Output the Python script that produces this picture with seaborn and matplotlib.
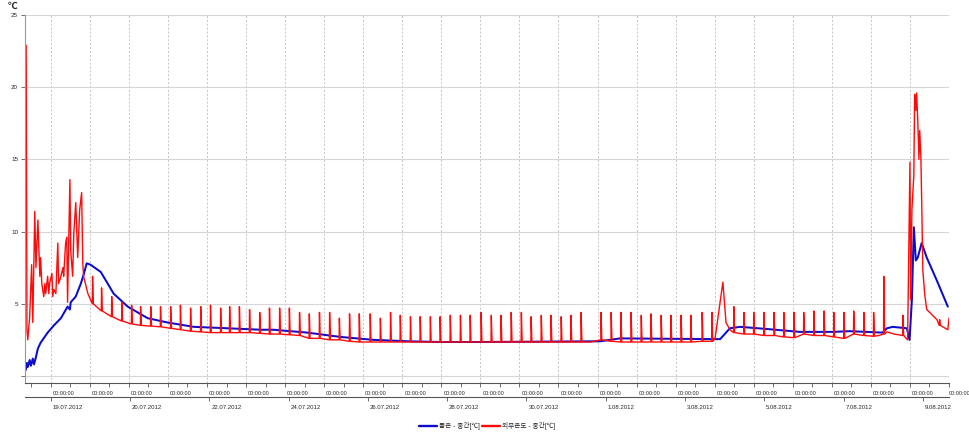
import numpy as np
import pandas as pd
import matplotlib
matplotlib.use('Agg')
import matplotlib.pyplot as plt
import matplotlib.transforms as mtransforms
from matplotlib.lines import Line2D
import seaborn as sns

# ------------------------------------------------
# Data (x = days after first midnight tick)
# ------------------------------------------------
blue_t = [-0.64, -0.61, -0.59, -0.54, -0.51, -0.46, -0.43, -0.38, -0.33, -0.26, -0.08, 0.08, 0.26, 0.43,
          0.49, 0.51, 0.64, 0.77, 0.84, 0.92, 1.02, 1.28, 1.61, 1.97, 2.48, 2.99, 3.66, 4.53, 5.37, 5.70,
          6.57, 7.42, 8.26, 9.13, 9.97, 11.0, 14.07, 14.58, 16.96, 17.14, 17.39, 17.65, 18.34, 19.18,
          20.03, 20.46, 21.30, 21.41, 21.56, 21.92, 21.99, 22.05, 22.10, 22.15, 22.20, 22.30, 22.43,
          22.69, 22.97]
blue_v = [0.42, 0.9, 0.62, 1.1, 0.7, 1.2, 0.8, 1.3, 1.9, 2.3, 3.0, 3.5, 4.0, 4.8,
          4.6, 5.1, 5.5, 6.4, 7.0, 7.8, 7.7, 7.2, 5.7, 4.8, 4.0, 3.7, 3.4, 3.3, 3.2, 3.2,
          3.0, 2.7, 2.5, 2.4, 2.35, 2.35, 2.4, 2.6, 2.55, 2.55, 3.3, 3.4, 3.25, 3.05,
          3.05, 3.1, 3.0, 3.3, 3.4, 3.3, 2.5, 5.3, 10.3, 8.0, 8.2, 9.2, 8.2,
          6.6, 4.8]

# red line: noisy start, bump on 3.08, storm at the end
red_t = [-0.63, -0.61, -0.59, -0.54, -0.49, -0.46, -0.43, -0.41, -0.38, -0.33, -0.28, -0.26, -0.23,
         -0.18, -0.15, -0.13, -0.08, -0.05, -0.03, 0.03, 0.05, 0.08, 0.13, 0.18, 0.20, 0.26, 0.31,
         0.33, 0.38, 0.41, 0.43, 0.49, 0.51, 0.56, 0.59, 0.64, 0.69, 0.74, 0.79, 0.82, 0.84, 0.95,
         13.83, 16.98, 17.01, 17.21, 17.29, 17.39, 21.20, 21.41, 21.60, 21.94,
         22.00, 22.02, 22.05, 22.10, 22.12, 22.15, 22.17, 22.20, 22.23, 22.25, 22.28, 22.30, 22.33,
         22.38, 22.43, 22.69, 22.75, 22.76, 22.78, 22.97, 23.0]
red_v = [22.9, 3.2, 2.5, 4.1, 7.7, 3.7, 8.5, 11.4, 7.5, 10.8, 6.9, 8.2, 6.4,
         5.5, 6.4, 5.7, 6.9, 5.7, 6.4, 7.1, 5.5, 6.0, 5.7, 9.2, 6.4, 6.9, 7.5,
         6.9, 9.2, 9.6, 5.1, 13.6, 8.7, 6.9, 9.9, 12.0, 8.2, 11.5, 12.7, 7.8, 6.9, 5.7,
         2.35, 2.5, 2.6, 6.5, 3.7, 3.2, 2.8, 3.05, 2.9, 2.5,
         14.8, 5.3, 11.5, 13.9, 19.5, 18.4, 19.6, 17.7, 15.0, 17.0, 15.1, 12.2, 7.3,
         5.6, 4.6, 3.9, 3.5, 3.9, 3.5, 3.2, 4.0]

# short defrost spikes of the red line
spike_t = [1.07, 1.30, 1.56, 1.82, 2.07, 2.30, 2.56, 2.81, 3.07, 3.32, 3.58, 3.84, 4.09, 4.35, 4.58,
           4.83, 5.09, 5.35, 5.60, 5.86, 6.11, 6.37, 6.62, 6.88, 7.14, 7.39, 7.65, 7.90, 8.18, 8.44,
           8.70, 8.95, 9.21, 9.46, 9.72, 9.97, 10.23, 10.49, 10.74, 11.02, 11.28, 11.53, 11.79, 12.05,
           12.30, 12.56, 12.81, 13.07, 13.32, 13.58, 14.09, 14.35, 14.60, 14.86, 15.12, 15.37, 15.63,
           15.88, 16.14, 16.39, 16.68, 16.93, 17.49, 17.75, 18.00, 18.26, 18.52, 18.77, 19.03, 19.28,
           19.54, 19.80, 20.05, 20.31, 20.56, 20.82, 21.07, 21.33, 21.82]
spike_peak = [6.9, 6.1, 5.5, 5.1, 4.9, 4.8, 4.8, 4.8, 4.8, 4.9, 4.7, 4.8, 4.9, 4.7, 4.8,
              4.8, 4.6, 4.4, 4.7, 4.7, 4.7, 4.4, 4.3, 4.4, 4.4, 4.0, 4.3, 4.3, 4.3, 4.0,
              4.4, 4.2, 4.1, 4.1, 4.1, 4.1, 4.2, 4.2, 4.2, 4.4, 4.2, 4.2, 4.4, 4.4,
              4.1, 4.2, 4.2, 4.1, 4.2, 4.4, 4.4, 4.4, 4.4, 4.4, 4.2, 4.3, 4.2,
              4.2, 4.2, 4.2, 4.4, 4.4, 4.8, 4.4, 4.4, 4.4, 4.4, 4.4, 4.4, 4.4,
              4.5, 4.5, 4.4, 4.4, 4.5, 4.4, 4.4, 6.9, 4.2]
spike_base = [5.0, 4.5, 4.1, 3.8, 3.6, 3.5, 3.45, 3.4, 3.3, 3.2, 3.1, 3.05, 3.0, 3.0, 3.0,
              3.0, 3.0, 2.95, 2.9, 2.9, 2.85, 2.8, 2.6, 2.6, 2.5, 2.5, 2.4, 2.35, 2.35, 2.35,
              2.35, 2.35, 2.35, 2.35, 2.35, 2.35, 2.35, 2.35, 2.35, 2.35, 2.35, 2.35, 2.35, 2.35,
              2.35, 2.35, 2.35, 2.35, 2.35, 2.35, 2.5, 2.4, 2.35, 2.35, 2.35, 2.35, 2.35,
              2.35, 2.35, 2.35, 2.4, 2.4, 3.0, 2.9, 2.9, 2.8, 2.8, 2.7, 2.65, 2.9,
              2.8, 2.8, 2.7, 2.6, 2.9, 2.8, 2.75, 2.9, 2.8]

day_ticks = list(range(0, 24))
date_days = [0, 2, 4, 6, 8, 10, 12, 14, 16, 18, 20, 22]
date_labels = ['19.07.2012', '20.07.2012', '22.07.2012', '24.07.2012', '26.07.2012', '28.07.2012',
               '30.07.2012', '1.08.2012', '3.08.2012', '5.08.2012', '7.08.2012', '9.08.2012']
series_names = ['품온 - 중간[℃]', '외부온도 - 중간[℃]']

blue_c = '#0c0ccc'
red_c = '#ff0a0a'

# ------------------------------------------------
# Build tables
# ------------------------------------------------
blue_df = pd.DataFrame({'t': blue_t, 'v': blue_v})

t_parts = [np.array(red_t)]
v_parts = [np.array(red_v)]
for t, p, b in zip(spike_t, spike_peak, spike_base):
    t_parts.append(np.array([t - 0.006, t, t + 0.02]))
    v_parts.append(np.array([b, p, b]))
red_df = pd.DataFrame({'t': np.concatenate(t_parts), 'v': np.concatenate(v_parts)})
red_df = red_df.sort_values('t', kind='stable')

# ------------------------------------------------
# Plot
# ------------------------------------------------
sns.set_style('white')
plt.rcParams['font.family'] = ['Liberation Sans', 'Noto Sans CJK KR', 'DejaVu Sans']

fig = plt.figure(figsize=(9.7, 4.4), dpi=100)
ax = fig.add_axes([25 / 970, 1 - 383 / 440, 924 / 970, 368 / 440])

sns.lineplot(data=blue_df, x='t', y='v', color=blue_c, lw=1.45, ax=ax, estimator=None, sort=False)
sns.lineplot(data=red_df, x='t', y='v', color=red_c, lw=1.0, ax=ax, estimator=None, sort=False)

ax.set_xlim(-0.66, 23.0)
ax.set_ylim(-0.49, 25)
ax.set_xlabel('')
ax.set_ylabel('')

ax.set_yticks([0, 5, 10, 15, 20, 25])
ax.set_yticklabels(['', '5', '10', '15', '20', '25'])
ax.tick_params(axis='y', length=3, width=0.6, color='#555555', labelsize=4.5, pad=2, left=True)

ax.set_xticks(day_ticks)
ax.set_xticklabels(['00:00:00'] * len(day_ticks))
ax.set_xticks(np.arange(-0.5, 23, 1), minor=True)
ax.tick_params(axis='x', which='both', length=3, width=0.6, color='#555555',
               labelsize=3.9, pad=2.5, bottom=True)
shift = mtransforms.ScaledTranslation(2 / 100, 0, fig.dpi_scale_trans)
last_shift = mtransforms.ScaledTranslation(0, 0, fig.dpi_scale_trans)
xlabs = ax.get_xticklabels()
for i, lab in enumerate(xlabs):
    lab.set_horizontalalignment('left')
    lab.set_transform(lab.get_transform() + (last_shift if i == len(xlabs) - 1 else shift))

ax.grid(axis='y', color='#d6d6d6', lw=0.8, ls='-')
ax.grid(axis='x', which='major', color='#c4c4c4', lw=0.7, ls=(0, (2, 2)))
for s in ['top', 'right']:
    ax.spines[s].set_visible(False)
ax.spines['left'].set_color('#999999')
ax.spines['left'].set_linewidth(0.8)
ax.spines['bottom'].set_color('#555555')
ax.spines['bottom'].set_linewidth(0.8)

# second row of the time axis with the dates
sec = ax.secondary_xaxis(-14 / 368)
sec.set_xticks([d * 1.015 for d in date_days])
sec.set_xticklabels(date_labels)
sec.tick_params(length=3, width=0.6, color='#555555', labelsize=4.3, pad=2.5)
sec.spines['bottom'].set_color('#555555')
sec.spines['bottom'].set_linewidth(0.8)
for lab in sec.get_xticklabels():
    lab.set_horizontalalignment('left')
    lab.set_transform(lab.get_transform() + shift)

fig.text(13 / 970, 1 - 6 / 440, '℃', fontsize=7, fontweight='bold', ha='center', va='center')

handles = [Line2D([], [], color=blue_c, lw=1.7), Line2D([], [], color=red_c, lw=1.7)]
fig.legend(handles, series_names, loc='center', bbox_to_anchor=(487 / 970, 1 - 426 / 440),
           ncol=2, frameon=False, fontsize=4.8, handlelength=2.6, handletextpad=0.3,
           columnspacing=0.4)

fig.savefig('out.png', dpi=100)
